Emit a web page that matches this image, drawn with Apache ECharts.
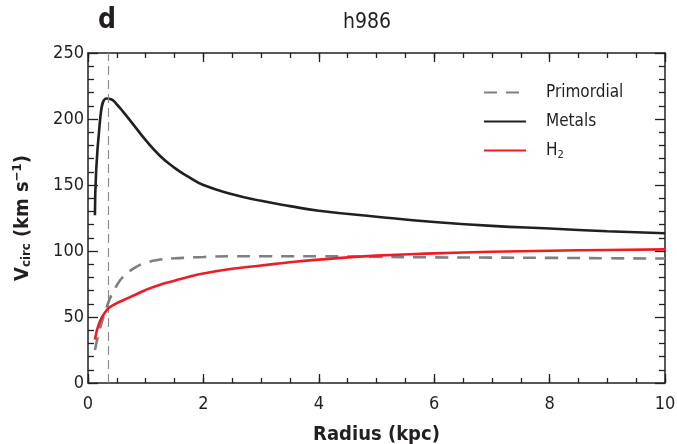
<!DOCTYPE html>
<html>
<head>
<meta charset="utf-8">
<script src="https://cdn.jsdelivr.net/npm/echarts@6/dist/echarts.min.js"></script>
<style>
  html, body { margin: 0; padding: 0; background: #fff; }
  #chart { width: 677px; height: 444px; }
</style>
</head>
<body>
<div id="chart"></div>
<script>
// radius (kpc) sample points
const radius = [0.12, 0.2, 0.32, 0.4, 0.5, 0.6, 0.8, 1, 1.25, 1.5, 1.75, 2, 2.5, 3, 3.5, 4, 5, 6, 7, 8, 9, 10];
const metals = [127, 195, 215.5, 215, 211, 206, 195, 184, 172, 163, 156, 150, 143, 138, 134, 130.5, 126, 122, 119, 117, 115, 113.5];
const primordial = [25, 40, 57, 66, 74, 80, 87, 91, 93.5, 94.5, 95, 95.5, 96, 96, 96, 96, 95.6, 95.2, 95, 94.8, 94.5, 94.3];
const h2 = [33, 46, 55, 58, 60.5, 62.5, 66.5, 70.5, 74.5, 77.5, 80.5, 83, 86.5, 89, 91.5, 93.5, 96.5, 98.2, 99.4, 100.2, 100.8, 101.2];
const markerRadius = 0.35;

const pairs = ys => radius.map((r, i) => [r, ys[i]]);

const FONT = '"Liberation Sans Narrow", "DejaVu Sans Condensed", "Liberation Sans", sans-serif';
const INK = '#231f20';

const chart = echarts.init(document.getElementById('chart'));

const lineStyle = { color: INK, width: 1.5 };
const yTicks = () => ({
  type: 'value', min: 0, max: 250, interval: 50,
  axisTick: { show: true, inside: true, length: 10, lineStyle: { color: INK, width: 1.3 } },
  minorTick: { show: true, splitNumber: 5, length: 6, lineStyle: { color: INK, width: 1.3 } },
  splitLine: { show: false }
});

// x ticks are drawn as split lines of thin strip grids along the top and bottom edges
const strips = [
  { top: 374, height: 9, step: 2 },
  { top: 378, height: 5, step: 0.5 },
  { top: 53, height: 9, step: 2 },
  { top: 53, height: 5, step: 0.5 }
];
const stripGrids = strips.map(s => ({ left: 88, right: 12, top: s.top, height: s.height, outerBoundsMode: 'none', containLabel: false }));
const stripX = strips.map((s, i) => ({
  type: 'value', gridIndex: i + 1, min: 0, max: 10, interval: s.step,
  axisLine: { show: false }, axisTick: { show: false }, axisLabel: { show: false },
  splitLine: { show: true, lineStyle: { color: INK, width: 1.3 } }
}));
const stripY = strips.map((s, i) => ({ type: 'value', gridIndex: i + 1, min: 0, max: 1, show: false }));

chart.setOption({
  backgroundColor: '#fff',
  animation: false,
  title: [
    { text: 'd', left: 93, top: 2, textStyle: { fontFamily: FONT, fontSize: 28, fontWeight: 'bold', color: INK } },
    { text: 'h986', left: 362, top: 7, textAlign: 'center', textStyle: { fontFamily: FONT, fontSize: 21, fontWeight: 'normal', color: INK } }
  ],
  grid: [{ left: 88, right: 12, top: 53, bottom: 61, containLabel: false, outerBoundsMode: 'none' }].concat(stripGrids),
  legend: {
    left: 478, top: 79, orient: 'vertical', itemWidth: 42, itemHeight: 4, itemGap: 12,
    itemStyle: { opacity: 0 },
    textStyle: {
      fontFamily: FONT, fontSize: 17, color: INK,
      rich: {
        n: { fontFamily: FONT, fontSize: 17, color: INK, padding: [0, 0, 0, 15] },
        sub: { fontFamily: FONT, fontSize: 11, color: INK, padding: [9, 0, 0, 0] }
      }
    },
    formatter: name => name === 'H2' ? '{n|H}{sub|2}' : '{n|' + name + '}',
    data: ['Primordial', 'Metals', 'H2']
  },
  xAxis: [
    {
      type: 'value', gridIndex: 0, min: 0, max: 10, interval: 2, position: 'bottom',
      axisLine: { show: true, onZero: false, lineStyle: lineStyle },
      axisTick: { show: false },
      splitLine: { show: false },
      axisLabel: { fontFamily: FONT, fontSize: 18, color: INK, margin: 12 },
      name: 'Radius (kpc)', nameLocation: 'middle', nameGap: 42,
      nameTextStyle: { fontFamily: FONT, fontSize: 20, fontWeight: 'bold', color: INK }
    },
    {
      type: 'value', gridIndex: 0, min: 0, max: 10, interval: 2, position: 'top',
      axisLine: { show: true, onZero: false, lineStyle: lineStyle },
      axisTick: { show: false }, splitLine: { show: false }, axisLabel: { show: false }
    }
  ].concat(stripX),
  yAxis: [
    Object.assign(yTicks(), {
      gridIndex: 0, position: 'left',
      axisLine: { show: true, onZero: false, lineStyle: lineStyle },
      axisLabel: { fontFamily: FONT, fontSize: 18, color: INK, margin: 4 },
      name: '{b|V}{s|circ}{b| (km s}{p|−1}{b|)}', nameLocation: 'middle', nameGap: 54,
      nameTextStyle: {
        rich: {
          b: { fontFamily: FONT, fontSize: 20, fontWeight: 'bold', color: INK },
          s: { fontFamily: FONT, fontSize: 13, fontWeight: 'bold', color: INK, padding: [9, 0, 0, 0] },
          p: { fontFamily: FONT, fontSize: 13, fontWeight: 'bold', color: INK, padding: [0, 0, 10, 0] }
        }
      }
    }),
    Object.assign(yTicks(), {
      gridIndex: 0, position: 'right',
      axisLine: { show: true, onZero: false, lineStyle: lineStyle },
      axisLabel: { show: false }
    })
  ].concat(stripY),
  series: [
    {
      name: 'Primordial', type: 'line', data: pairs(primordial), smooth: 0.5,
      xAxisIndex: 0, yAxisIndex: 0,
      symbol: 'none', color: '#7f7f7f',
      lineStyle: { color: '#7f7f7f', width: 2.6, type: [13, 9] },
      z: 3,
      markLine: {
        silent: true, symbol: 'none', label: { show: false },
        lineStyle: { color: '#8c8c8c', width: 1.2, type: [9, 5] },
        data: [{ xAxis: markerRadius }]
      }
    },
    {
      name: 'Metals', type: 'line', data: pairs(metals), smooth: 0.5,
      xAxisIndex: 0, yAxisIndex: 0,
      symbol: 'none', color: INK,
      lineStyle: { color: INK, width: 2.6 }, z: 4
    },
    {
      name: 'H2', type: 'line', data: pairs(h2), smooth: 0.5,
      xAxisIndex: 0, yAxisIndex: 0,
      symbol: 'none', color: '#ee1c25',
      lineStyle: { color: '#ee1c25', width: 2.6 }, z: 5
    }
  ]
});
</script>
</body>
</html>
